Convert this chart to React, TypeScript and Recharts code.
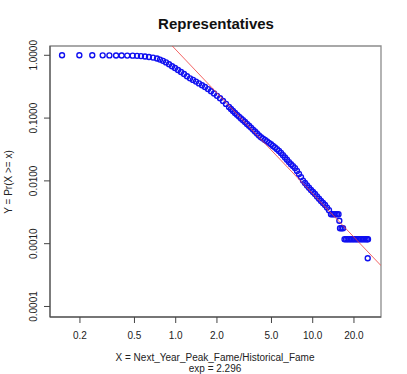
import { ScatterChart, Scatter, XAxis, YAxis, ReferenceArea } from 'recharts';

// CCDF points (x = ratio, y = Pr(X >= x))
const pointX = [
  0.148, 0.198, 0.246, 0.293, 0.328, 0.367, 0.403, 0.443, 0.485, 0.522, 0.558, 0.597, 0.638, 0.683, 0.73,
  0.768, 0.808, 0.85, 0.894, 0.94, 0.988, 1.039, 1.093, 1.15, 1.209, 1.272, 1.338, 1.406, 1.479, 1.556,
  1.636, 1.721, 1.81, 1.904, 2.002, 2.106, 2.215, 2.329, 2.449,
  2.533, 2.619, 2.709, 2.803, 2.897, 2.997, 3.099, 3.205, 3.314, 3.428, 3.545, 3.666, 3.792, 3.921, 4.055,
  4.194, 4.337, 4.485, 4.639, 4.797, 4.961, 5.131, 5.306, 5.487, 5.675, 5.869, 6.069, 6.277, 6.491, 6.714,
  6.943, 7.181, 7.426, 7.68, 7.943, 8.214, 8.495, 8.786, 9.086, 9.397, 9.719, 10.05, 10.39, 10.75, 11.12,
  11.5, 11.89, 12.3, 12.72, 13.15,
  13.6, 13.95, 14.3, 14.67, 15.05, 15.43, 15.64, 15.82, 16.23, 16.64,
  17.07, 17.51, 17.95, 18.41, 18.88, 19.36, 19.86, 20.37, 20.88, 21.41, 21.96, 22.52, 23.1, 23.69, 24.29,
  24.91, 25.33, 25.21,
];
const pointY = [
  1.0, 1.0, 1.0, 0.998, 0.996, 0.994, 0.992, 0.99, 0.986, 0.98, 0.97, 0.958, 0.94, 0.92, 0.89,
  0.855, 0.815, 0.77, 0.72, 0.668, 0.628, 0.583, 0.542, 0.504, 0.463, 0.43, 0.406, 0.381, 0.357, 0.334,
  0.313, 0.29, 0.268, 0.246, 0.226, 0.207, 0.187, 0.168, 0.15,
  0.1396, 0.1297, 0.1206, 0.1128, 0.1056, 0.0989, 0.0926, 0.0867, 0.0808, 0.0754, 0.0706, 0.0656, 0.0612, 0.0569, 0.0528,
  0.0496, 0.0472, 0.0448, 0.0426, 0.0404, 0.0383, 0.0361, 0.034, 0.032, 0.03, 0.0279, 0.0257, 0.0236, 0.0217, 0.0199,
  0.0184, 0.0172, 0.016, 0.0144, 0.0129, 0.0115, 0.0101, 0.00926, 0.00848, 0.00777, 0.00716, 0.00665, 0.00618, 0.00566, 0.00519,
  0.00478, 0.00445, 0.00413, 0.00376, 0.00342,
  0.00294, 0.00294, 0.00294, 0.00294, 0.00294, 0.00294, 0.00232, 0.00176, 0.00176, 0.00176,
  0.001175, 0.001175, 0.001175, 0.001175, 0.001175, 0.001175, 0.001175, 0.001175, 0.001175, 0.001175, 0.001175, 0.001175, 0.001175, 0.001175, 0.001175,
  0.001175, 0.001175, 0.000586,
];

// fitted power-law line, end points where it leaves the plot box
const fitX = [0.94, 31.5];
const fitY = [1.42, 0.000448];

const xTicks = [0.2, 0.5, 1, 2, 5, 10, 20];
const yTicks = [0.0001, 0.001, 0.01, 0.1, 1];

const xDomain = [0.1209, 31.51];
const yDomain = [0.000068, 1.406];

const points = pointX.map((x, i) => ({ x, y: pointY[i] }));
const fit = fitX.map((x, i) => ({ x, y: fitY[i] }));

const FONT = '"Liberation Sans", Arial, Helvetica, sans-serif';

function OpenCircle(props: any) {
  const { cx, cy } = props;
  return <circle cx={cx} cy={cy} r={2.5} fill="none" stroke="#1010f0" strokeWidth={1.35} />;
}

function YTick(props: any) {
  const { y, payload } = props;
  return (
    <text
      transform={`translate(33.5, ${y}) rotate(-90)`}
      textAnchor="middle"
      dominantBaseline="central"
      fontSize={10}
      fontFamily={FONT}
      fill="#222"
    >
      {Number(payload.value).toFixed(4)}
    </text>
  );
}

export default function App() {
  return (
    <div style={{ position: 'absolute', left: 0, top: 0, width: 407, height: 374, background: '#fff', fontFamily: FONT }}>
      <ScatterChart width={407} height={374} margin={{ top: 46, right: 26, bottom: 0, left: 0 }}>
        <XAxis
          type="number"
          dataKey="x"
          scale="log"
          domain={xDomain}
          allowDataOverflow
          ticks={xTicks}
          tickFormatter={(v: number) => v.toFixed(1)}
          tickSize={6}
          tickMargin={9}
          height={57}
          stroke="#444"
          tick={{ fontSize: 10, fill: '#222', fontFamily: FONT }}
        />
        <YAxis
          type="number"
          dataKey="y"
          scale="log"
          domain={yDomain}
          allowDataOverflow
          ticks={yTicks}
          tick={<YTick />}
          tickSize={6}
          width={50}
          stroke="#444"
        />
        <ReferenceArea
          x1={xDomain[0]}
          x2={xDomain[1]}
          y1={yDomain[0]}
          y2={yDomain[1]}
          fill="none"
          stroke="#8c8c8c"
          strokeWidth={1.3}
          fillOpacity={0}
        />
        <Scatter data={points} shape={<OpenCircle />} isAnimationActive={false} />
        <Scatter
          data={fit}
          line={{ stroke: '#f03c3c', strokeWidth: 0.8 }}
          shape={() => <g />}
          isAnimationActive={false}
        />
      </ScatterChart>

      <div style={{ position: 'absolute', left: 216, top: 15.5, transform: 'translateX(-50%)', fontWeight: 'bold', fontSize: 15, lineHeight: '15px', whiteSpace: 'nowrap', color: '#111' }}>
        Representatives
      </div>
      <div style={{ position: 'absolute', left: 215, top: 353, transform: 'translateX(-50%)', fontSize: 10, lineHeight: '10px', whiteSpace: 'nowrap', color: '#222' }}>
        X = Next_Year_Peak_Fame/Historical_Fame
      </div>
      <div style={{ position: 'absolute', left: 215, top: 363.5, transform: 'translateX(-50%)', fontSize: 10, lineHeight: '10px', whiteSpace: 'nowrap', color: '#222' }}>
        exp = 2.296
      </div>
      <div style={{ position: 'absolute', left: 9, top: 182, transform: 'translate(-50%, -50%) rotate(-90deg)', fontSize: 10, lineHeight: '10px', whiteSpace: 'nowrap', color: '#222' }}>
        Y = Pr(X &gt;= x)
      </div>
    </div>
  );
}
